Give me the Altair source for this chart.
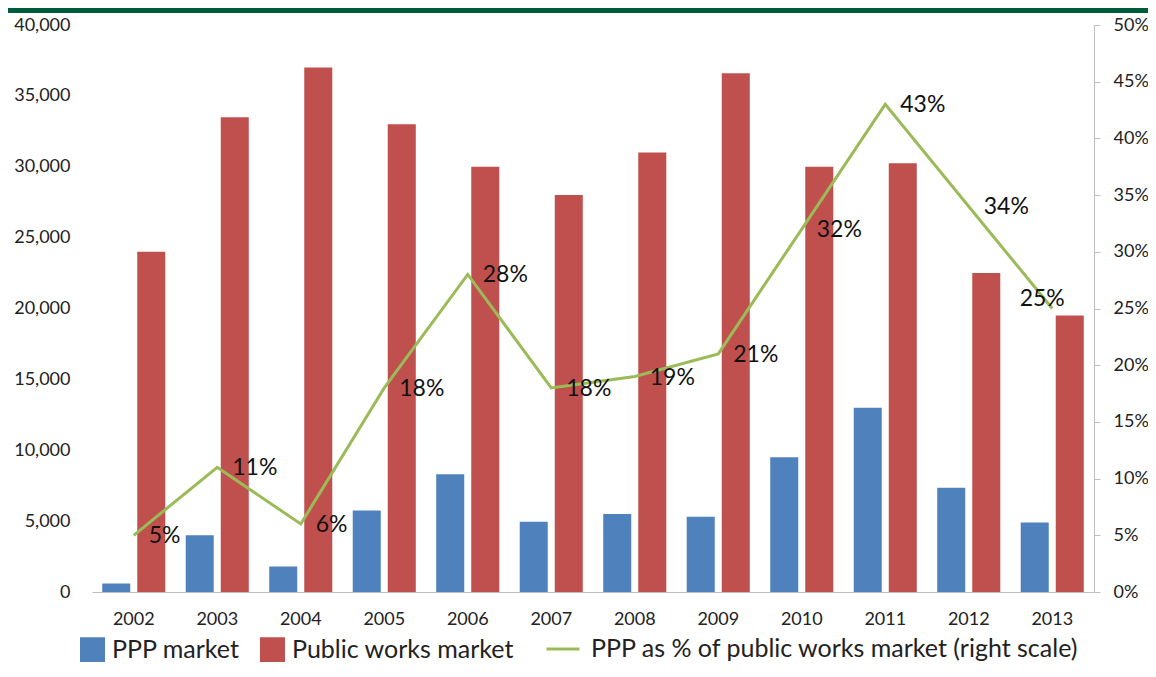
import altair as alt
import pandas as pd

years = [str(y) for y in range(2002, 2014)]
ppp_market = [600, 4000, 1800, 5750, 8300, 4950, 5500, 5300, 9500, 13000, 7350, 4900]
public_works = [24000, 33500, 37000, 33000, 30000, 28000, 31000, 36600, 30000, 30250, 22500, 19500]
ppp_share = [0.05, 0.11, 0.06, 0.18, 0.28, 0.18, 0.19, 0.21, 0.32, 0.43, 0.34, 0.25]

series_names = ["PPP market", "Public works market"]
line_name = "PPP as % of public works market (right scale)"

BLUE = "#4F81BD"
RED = "#C0504D"
GREEN = "#9BBB59"
DARK_GREEN = "#005B3A"
GRAY = "#bfbfbf"
FONT = "Lato"

bar_df = pd.DataFrame(
    [{"year": y, "series": series_names[0], "value": v} for y, v in zip(years, ppp_market)]
    + [{"year": y, "series": series_names[1], "value": v} for y, v in zip(years, public_works)]
)
line_df = pd.DataFrame({"year": years, "pct": ppp_share, "name": [line_name] * len(years)})

x_enc = alt.X(
    "year:N",
    sort=years,
    scale=alt.Scale(paddingInner=0.245, paddingOuter=0.1225),
    axis=alt.Axis(
        title=None, labelAngle=0, ticks=False, domainColor=GRAY,
        labelPadding=18, labelFontSize=18,
    ),
)

bars = alt.Chart(bar_df).mark_bar().encode(
    x=x_enc,
    xOffset=alt.XOffset("series:N", sort=series_names,
                        scale=alt.Scale(paddingInner=0.2, paddingOuter=0)),
    y=alt.Y(
        "value:Q",
        scale=alt.Scale(domain=[0, 40000], nice=False),
        axis=alt.Axis(
            title=None, values=list(range(0, 40001, 5000)), format=",d",
            domain=False, ticks=False, grid=False, labelPadding=22, labelFontSize=18,
        ),
    ),
    color=alt.Color(
        "series:N",
        sort=series_names,
        scale=alt.Scale(domain=series_names, range=[BLUE, RED]),
        legend=alt.Legend(
            title=None, orient="none", legendX=-12, legendY=612,
            direction="horizontal", symbolType="square", symbolSize=625,
            symbolStrokeWidth=0, labelFontSize=25, labelOffset=7, columnPadding=20,
            labelLimit=0,
        ),
    ),
)

pct_y = alt.Y(
    "pct:Q",
    scale=alt.Scale(domain=[0, 0.5], nice=False),
    axis=alt.Axis(
        orient="right", title=None, format=".0%",
        values=[round(i * 0.05, 2) for i in range(11)],
        domainColor=GRAY, tickColor=GRAY, tickSize=6, labelPadding=13,
        grid=False, labelFontSize=18,
    ),
)

line = alt.Chart(line_df).mark_line(strokeWidth=3).encode(
    x=alt.X("year:N", sort=years),
    y=pct_y,
    stroke=alt.Stroke(
        "name:N",
        scale=alt.Scale(domain=[line_name], range=[GREEN]),
        legend=alt.Legend(
            title=None, orient="none", legendX=453, legendY=606,
            symbolType="stroke", symbolSize=1089, symbolStrokeWidth=3,
            labelFontSize=25, labelOffset=10, labelLimit=0,
        ),
    ),
)

label_y = alt.Y("pct:Q", scale=alt.Scale(domain=[0, 0.5], nice=False))

labels = alt.Chart(line_df).transform_filter(
    alt.datum.year != years[-1]
).mark_text(
    align="left", baseline="middle", dx=15, dy=1, fontSize=23, color="#111", font=FONT
).encode(
    x=alt.X("year:N", sort=years),
    y=label_y,
    text=alt.Text("pct:Q", format=".0%"),
)

last_label = alt.Chart(line_df).transform_filter(
    alt.datum.year == years[-1]
).mark_text(
    align="center", baseline="middle", dx=-10, dy=-10, fontSize=23, color="#111", font=FONT
).encode(
    x=alt.X("year:N", sort=years),
    y=label_y,
    text=alt.Text("pct:Q", format=".0%"),
)

top_band = alt.Chart(alt.Data(values=[{}])).mark_rule(
    color=DARK_GREEN, strokeWidth=5
).encode(x=alt.value(-84), x2=alt.value(1056), y=alt.value(-14.5))

chart = (
    alt.layer(bars, alt.layer(line, labels, last_label), top_band)
    .resolve_scale(y="independent")
    .properties(
        width=1002,
        height=567,
        padding={"left": 84, "top": 17, "right": 54, "bottom": 70},
        autosize=alt.AutoSizeParams(type="none"),
    )
    .configure_view(stroke=None)
    .configure_axis(labelFont=FONT, labelColor="#222")
    .configure_legend(labelFont=FONT, labelColor="#222", padding=0)
)

chart.save("out.html", embed_options={"renderer": "svg", "actions": False})
